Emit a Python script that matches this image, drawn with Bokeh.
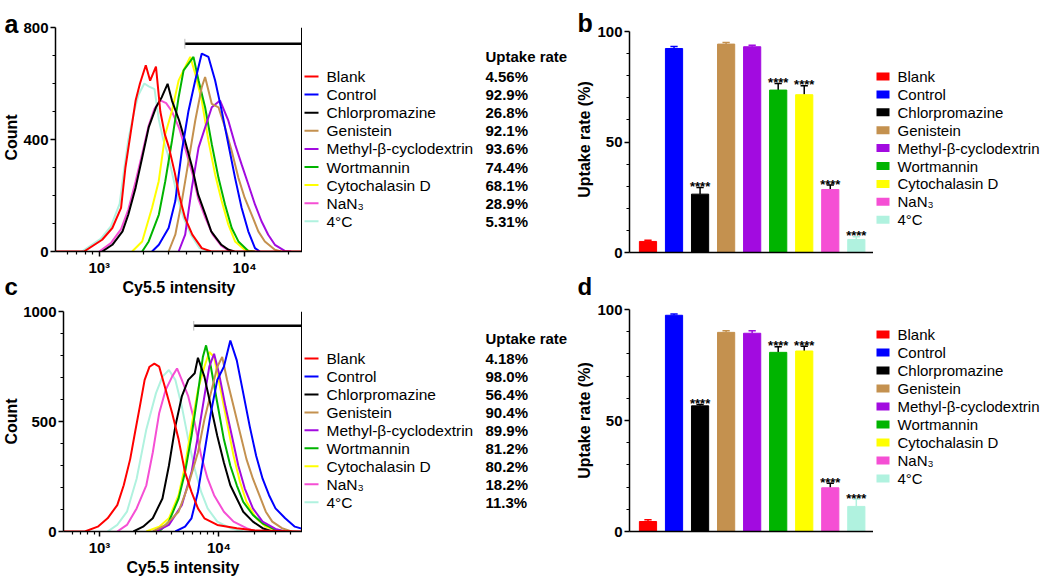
import math
from bokeh.plotting import figure
from bokeh.layouts import row, column
from bokeh.models import Range1d, FixedTicker, Span, CustomJSTickFormatter
from bokeh.core.properties import value
from bokeh.embed import file_html
from bokeh.resources import INLINE

FONT = "Liberation Sans"
INK = "#000000"

# ---------------- data ----------------
groups = ["Blank", "Control", "Chlorpromazine", "Genistein", "Methyl-β-cyclodextrin",
          "Wortmannin", "Cytochalasin D", "NaN₃", "4°C"]
colors = ["#ff0000", "#0000ff", "#000000", "#c4914f", "#a20be0",
          "#00b400", "#ffff00", "#f54fd4", "#b0f2df"]
err_colors = ["#ff0000", "#0000ff", "#000000", "#c4914f", "#a20be0",
              "#000000", "#000000", "#000000", "#b0f2df"]

uptake_a = ["4.56%", "92.9%", "26.8%", "92.1%", "93.6%", "74.4%", "68.1%", "28.9%", "5.31%"]
uptake_c = ["4.18%", "98.0%", "56.4%", "90.4%", "89.9%", "81.2%", "80.2%", "18.2%", "11.3%"]

bar_b = [5.0, 92.3, 26.4, 94.3, 93.1, 73.5, 71.4, 28.5, 5.9]
sd_b = [0.5, 0.9, 3.0, 0.7, 0.7, 3.0, 4.0, 2.0, 1.2]
sig_b = ["", "", "****", "", "", "****", "****", "****", "****"]

bar_d = [4.5, 97.4, 56.6, 89.7, 89.3, 80.7, 81.3, 19.7, 11.3]
sd_d = [0.8, 0.6, 0.6, 0.7, 1.1, 2.5, 2.2, 2.0, 3.3]
sig_d = ["", "", "****", "", "", "****", "****", "****", "****"]

# histograms (log10 of Cy5.5 intensity, count) -- panel a
a_blank_log = [2.70, 2.895, 3.02, 3.09, 3.15, 3.18, 3.215, 3.25, 3.28, 3.32, 3.35, 3.39, 3.42, 3.45, 3.48, 3.52, 3.55, 3.59, 3.64, 3.705, 3.77, 4.40]
a_blank_cnt = [0, 0, 42, 84, 156, 300, 420, 539, 600, 665, 610, 660, 500, 420, 370, 280, 200, 120, 60, 12, 0, 0]
a_ctrl_log = [3.363, 3.41, 3.477, 3.523, 3.568, 3.614, 3.66, 3.705, 3.751, 3.797, 3.842, 3.888, 3.934, 3.979, 4.025, 4.071, 4.105]
a_ctrl_cnt = [0, 24, 84, 180, 359, 503, 611, 707, 695, 611, 503, 383, 263, 156, 72, 12, 0]
a_chlor_log = [3.02, 3.09, 3.16, 3.20, 3.25, 3.295, 3.34, 3.39, 3.43, 3.47, 3.50, 3.55, 3.59, 3.64, 3.68, 3.73, 3.77, 3.84, 3.89, 3.93]
a_chlor_cnt = [0, 24, 72, 132, 228, 335, 443, 515, 551, 599, 539, 467, 395, 299, 204, 132, 72, 24, 6, 0]
a_gen_log = [3.477, 3.523, 3.568, 3.614, 3.66, 3.705, 3.728, 3.774, 3.82, 3.865, 3.911, 3.957, 4.00, 4.048, 4.094, 4.139, 4.208, 4.25]
a_gen_cnt = [0, 60, 180, 323, 467, 587, 623, 527, 515, 443, 359, 263, 192, 132, 72, 36, 6, 0]
a_mbcd_log = [3.546, 3.591, 3.637, 3.683, 3.728, 3.774, 3.831, 3.888, 3.934, 3.979, 4.025, 4.071, 4.116, 4.162, 4.208, 4.276, 4.32]
a_mbcd_cnt = [0, 60, 228, 371, 443, 515, 539, 467, 383, 311, 240, 168, 108, 60, 24, 2, 0]
a_wort_log = [3.295, 3.34, 3.41, 3.454, 3.50, 3.546, 3.58, 3.614, 3.648, 3.683, 3.728, 3.774, 3.82, 3.865, 3.911, 3.957, 4.025, 4.07]
a_wort_cnt = [0, 36, 132, 251, 395, 551, 647, 671, 695, 611, 515, 383, 263, 168, 84, 36, 2, 0]
a_cyto_log = [3.226, 3.295, 3.363, 3.409, 3.454, 3.50, 3.546, 3.591, 3.626, 3.66, 3.705, 3.751, 3.797, 3.842, 3.888, 3.934, 4.00, 4.05]
a_cyto_cnt = [0, 36, 156, 251, 419, 503, 611, 659, 695, 635, 539, 395, 275, 180, 96, 36, 6, 0]
a_nan3_log = [3.00, 3.08, 3.15, 3.20, 3.25, 3.30, 3.34, 3.38, 3.42, 3.46, 3.50, 3.55, 3.59, 3.64, 3.68, 3.73, 3.78, 3.84, 3.90]
a_nan3_cnt = [0, 30, 80, 150, 250, 360, 450, 510, 540, 530, 500, 440, 370, 280, 190, 120, 60, 20, 0]
a_cold_log = [2.88, 3.01, 3.08, 3.14, 3.17, 3.20, 3.24, 3.27, 3.31, 3.34, 3.38, 3.41, 3.44, 3.47, 3.51, 3.54, 3.58, 3.63, 3.69, 3.76]
a_cold_cnt = [0, 45, 90, 170, 290, 400, 500, 560, 600, 590, 580, 470, 400, 350, 260, 190, 120, 60, 12, 0]

# panel c
c_blank_log = [2.70, 2.878, 2.986, 3.068, 3.149, 3.203, 3.257, 3.297, 3.338, 3.378, 3.419, 3.459, 3.50, 3.554, 3.608, 3.662, 3.716, 3.77, 3.824, 3.878, 3.986, 4.149, 4.311, 4.70]
c_blank_cnt = [0, 0, 22, 60, 120, 210, 329, 449, 569, 689, 749, 763, 749, 644, 539, 419, 269, 180, 105, 60, 30, 15, 4, 0]
c_ctrl_log = [3.635, 3.716, 3.77, 3.824, 3.878, 3.932, 3.986, 4.041, 4.095, 4.149, 4.203, 4.257, 4.311, 4.365, 4.419, 4.473, 4.554, 4.635, 4.70]
c_ctrl_cnt = [0, 22, 60, 180, 359, 539, 689, 749, 868, 778, 629, 479, 344, 240, 165, 105, 60, 22, 12]
c_chlor_log = [3.284, 3.365, 3.446, 3.527, 3.581, 3.635, 3.689, 3.743, 3.797, 3.824, 3.878, 3.932, 3.986, 4.041, 4.095, 4.149, 4.203, 4.284, 4.365, 4.446]
c_chlor_cnt = [0, 22, 60, 150, 299, 479, 614, 689, 719, 790, 704, 569, 434, 314, 210, 150, 90, 45, 15, 0]
c_gen_log = [3.446, 3.554, 3.662, 3.743, 3.824, 3.878, 3.932, 3.986, 4.027, 4.068, 4.122, 4.176, 4.23, 4.284, 4.338, 4.392, 4.446, 4.527, 4.608]
c_gen_cnt = [0, 30, 90, 210, 359, 509, 629, 749, 793, 689, 569, 449, 329, 240, 165, 90, 45, 15, 0]
c_mbcd_log = [3.473, 3.581, 3.689, 3.77, 3.824, 3.878, 3.919, 3.959, 4.00, 4.054, 4.108, 4.162, 4.216, 4.284, 4.365, 4.473, 4.554]
c_mbcd_cnt = [0, 30, 120, 269, 434, 614, 749, 808, 719, 569, 434, 299, 195, 105, 45, 12, 0]
c_wort_log = [3.50, 3.581, 3.662, 3.716, 3.77, 3.824, 3.865, 3.892, 3.932, 3.986, 4.041, 4.095, 4.149, 4.203, 4.284, 4.365, 4.473, 4.554]
c_wort_cnt = [0, 45, 150, 269, 434, 629, 793, 846, 749, 584, 419, 299, 210, 135, 75, 37, 7, 0]
c_cyto_log = [3.392, 3.50, 3.581, 3.662, 3.716, 3.77, 3.824, 3.878, 3.919, 3.959, 4.014, 4.068, 4.122, 4.176, 4.23, 4.311, 4.392, 4.50]
c_cyto_cnt = [0, 22, 60, 165, 299, 479, 644, 749, 816, 793, 644, 494, 344, 225, 135, 60, 22, 0]
c_nan3_log = [3.149, 3.23, 3.311, 3.392, 3.446, 3.50, 3.554, 3.608, 3.649, 3.689, 3.743, 3.797, 3.851, 3.905, 3.959, 4.041, 4.122, 4.23, 4.311]
c_nan3_cnt = [0, 30, 105, 210, 359, 539, 644, 704, 741, 689, 614, 494, 344, 240, 165, 90, 45, 15, 0]
c_cold_log = [3.068, 3.149, 3.23, 3.311, 3.392, 3.473, 3.527, 3.581, 3.635, 3.689, 3.743, 3.797, 3.851, 3.905, 3.986, 4.095, 4.203]
c_cold_cnt = [0, 30, 90, 240, 464, 629, 704, 734, 689, 569, 419, 284, 180, 105, 45, 15, 0]

# axis ranges / gates (intensity units)
a_xrange = (500, 25000)
c_xrange = (500, 50000)
a_gate = (3880, 25000, 742)
c_gate = (6150, 50000, 935)

hist_a = [(a_blank_log, a_blank_cnt), (a_ctrl_log, a_ctrl_cnt), (a_chlor_log, a_chlor_cnt),
          (a_gen_log, a_gen_cnt), (a_mbcd_log, a_mbcd_cnt), (a_wort_log, a_wort_cnt),
          (a_cyto_log, a_cyto_cnt), (a_nan3_log, a_nan3_cnt), (a_cold_log, a_cold_cnt)]
hist_c = [(c_blank_log, c_blank_cnt), (c_ctrl_log, c_ctrl_cnt), (c_chlor_log, c_chlor_cnt),
          (c_gen_log, c_gen_cnt), (c_mbcd_log, c_mbcd_cnt), (c_wort_log, c_wort_cnt),
          (c_cyto_log, c_cyto_cnt), (c_nan3_log, c_nan3_cnt), (c_cold_log, c_cold_cnt)]


def no_align(p):
    try:
        p.frame_align = False
    except Exception:
        pass


def style_axis(ax, label):
    ax.axis_label = label
    ax.axis_label_text_font = FONT
    ax.axis_label_text_font_style = "bold"
    ax.axis_label_text_font_size = "16px"
    ax.axis_label_text_color = INK
    ax.axis_label_standoff = 0
    ax.major_label_text_font = FONT
    ax.major_label_text_font_style = "bold"
    ax.major_label_text_font_size = "15px"
    ax.major_label_text_color = INK
    ax.major_label_standoff = 2
    ax.axis_line_color = INK
    ax.major_tick_line_color = INK
    ax.minor_tick_line_color = INK
    ax.axis_line_width = 1.5
    ax.major_tick_line_width = 1.5
    ax.minor_tick_line_width = 1.2
    ax.major_tick_in = 0
    ax.major_tick_out = 5
    ax.minor_tick_in = 0
    ax.minor_tick_out = 3


def hist_fig(curves, xr, ymax, yticks, yminor, gate, width, height, left, top, bottom):
    p = figure(width=width, height=height, x_axis_type="log",
               x_range=Range1d(*xr), y_range=Range1d(0, ymax),
               output_backend="svg", toolbar_location=None,
               min_border_left=left, min_border_right=0,
               min_border_top=top, min_border_bottom=bottom)
    no_align(p)
    p.outline_line_color = None
    p.grid.visible = False
    for i in reversed(range(len(curves))):
        lg, cnt = curves[i]
        p.line([10 ** v for v in lg], cnt, line_color=colors[i], line_width=2)
    lo, hi, gy = gate
    p.segment(x0=[lo], y0=[gy], x1=[hi], y1=[gy], line_color=INK, line_width=2.5)
    p.segment(x0=[lo, hi], y0=[gy - ymax * 0.022] * 2, x1=[lo, hi], y1=[gy + ymax * 0.022] * 2,
              line_color="#bbbbbb", line_width=1)
    p.add_layout(Span(location=xr[1], dimension="height", line_color=INK, line_width=3))
    minors = []
    for dec in (100, 1000, 10000):
        for k in range(2, 10):
            v = k * dec
            if xr[0] < v < xr[1]:
                minors.append(v)
    p.xaxis.ticker = FixedTicker(ticks=[1000, 10000], minor_ticks=minors)
    p.xaxis.formatter = CustomJSTickFormatter(
        code="const e = Math.round(Math.log10(tick)); return e == 3 ? '10\u00b3' : '10\u2074';")
    p.yaxis.ticker = FixedTicker(ticks=yticks, minor_ticks=yminor)
    style_axis(p.xaxis[0], "Cy5.5 intensity")
    style_axis(p.yaxis[0], "")
    return p


def bar_fig(vals, sds, sigs, width, height, left, top, bottom):
    idx = list(range(len(vals)))
    p = figure(width=width, height=height, x_range=Range1d(-0.71, 8.66), y_range=Range1d(0, 100),
               output_backend="svg", toolbar_location=None,
               min_border_left=left, min_border_right=0,
               min_border_top=top, min_border_bottom=bottom)
    no_align(p)
    p.outline_line_color = None
    p.grid.visible = False
    tops = [v + s for v, s in zip(vals, sds)]
    p.segment(x0=idx, y0=vals, x1=idx, y1=tops, line_color=err_colors, line_width=1.5)
    p.segment(x0=[i - 0.14 for i in idx], y0=tops, x1=[i + 0.14 for i in idx], y1=tops,
              line_color=err_colors, line_width=1.5)
    p.vbar(x=idx, top=vals, width=0.66, fill_color=colors, line_color=colors)
    p.text(x=idx, y=tops, text=sigs, text_align="center", text_baseline="alphabetic",
           text_font=value(FONT), text_font_style="bold", text_font_size="13px",
           text_color=INK, y_offset=-1)
    p.yaxis.ticker = FixedTicker(ticks=[0, 50, 100], minor_ticks=[10, 20, 30, 40, 60, 70, 80, 90])
    style_axis(p.yaxis[0], "")
    ax = p.xaxis[0]
    ax.ticker = FixedTicker(ticks=[])
    ax.major_label_text_font_size = "0px"
    ax.major_tick_line_color = None
    ax.minor_tick_line_color = None
    ax.axis_line_color = INK
    ax.axis_line_width = 1.5
    return p


def text_fig(w, h, x0, y0):
    # a plain canvas whose data units are page pixels (y grows downward)
    p = figure(width=w, height=h, x_range=Range1d(x0, x0 + w), y_range=Range1d(y0 + h, y0),
               output_backend="svg", toolbar_location=None,
               x_axis_location=None, y_axis_location=None, min_border=0)
    no_align(p)
    p.outline_line_color = None
    p.grid.visible = False
    return p


def put_text(p, x, y, txt, size, bold=False, align="left", baseline="middle", angle=0.0):
    p.text(x=[x], y=[y], text=[txt], text_align=align, text_baseline=baseline, angle=angle,
           text_font=value(FONT), text_font_style="bold" if bold else "normal",
           text_font_size=size, text_color=INK)


def hist_legend(p, row0, step, header_y, values):
    ys = [row0 + i * step for i in range(len(groups))]
    p.segment(x0=[304] * 9, y0=ys, x1=[318] * 9, y1=ys, line_color=colors, line_width=2)
    p.text(x=[326] * 9, y=ys, text=groups, text_baseline="middle", text_align="left",
           text_font=value(FONT), text_font_size="15.5px", text_color=INK)
    p.text(x=[485] * 9, y=ys, text=values, text_baseline="middle", text_align="left",
           text_font=value(FONT), text_font_style="bold", text_font_size="15px", text_color=INK)
    put_text(p, 485, header_y, "Uptake rate", "15px", bold=True)


def bar_legend(p, row0, step):
    ys = [row0 + i * step for i in range(len(groups))]
    p.rect(x=[882.5] * 9, y=ys, width=13, height=8, fill_color=colors, line_color=None)
    p.text(x=[897] * 9, y=ys, text=groups, text_baseline="middle", text_align="left",
           text_font=value(FONT), text_font_size="15px", text_color=INK)


ROW1_Y, ROW1_H = 0, 300
ROW2_Y, ROW2_H = 300, 278
ROT = math.pi / 2
W_S, W_H, W_L, W_B, W_BL = 20, 282, 292, 279, 177
X_H = W_S
X_L = X_H + W_H          # 302
X_B = X_L + W_L          # 594
X_BL = X_B + W_B         # 873

# ---- row 1 ----
sa = text_fig(W_S, ROW1_H, 0, ROW1_Y)
put_text(sa, 4, 23, "a", "25px", bold=True, baseline="alphabetic")
put_text(sa, 11, 137, "Count", "16px", bold=True, align="center", angle=ROT)
put_text(sa, 4, 299, "c", "24px", bold=True, baseline="bottom")

pa = hist_fig(hist_a, a_xrange, 800, [0, 400, 800], [100, 200, 300, 500, 600, 700],
              a_gate, W_H, ROW1_H, 33, 27, 49)

pal = text_fig(W_L, ROW1_H, X_L, ROW1_Y)
hist_legend(pal, 76, 18.1, 56, uptake_a)
put_text(pal, 577, 22, "b", "25px", bold=True, baseline="alphabetic")
put_text(pal, 584, 139, "Uptake rate (%)", "16px", bold=True, align="center", angle=ROT)
put_text(pal, 577, 299, "d", "24px", bold=True, baseline="bottom")

pb = bar_fig(bar_b, sd_b, sig_b, W_B, ROW1_H, 32, 31, 48)

pbl = text_fig(W_BL, ROW1_H, X_BL, ROW1_Y)
bar_legend(pbl, 76, 17.9)

# ---- row 2 ----
sc = text_fig(W_S, ROW2_H, 0, ROW2_Y)
put_text(sc, 11, 421, "Count", "16px", bold=True, align="center", angle=ROT)

pc = hist_fig(hist_c, c_xrange, 1000, [0, 500, 1000], [100, 200, 300, 400, 600, 700, 800, 900],
              c_gate, W_H, ROW2_H, 33, 11, 45)

pcl = text_fig(W_L, ROW2_H, X_L, ROW2_Y)
hist_legend(pcl, 358, 17.96, 338, uptake_c)
put_text(pcl, 584, 420, "Uptake rate (%)", "16px", bold=True, align="center", angle=ROT)

pd = bar_fig(bar_d, sd_d, sig_d, W_B, ROW2_H, 32, 9, 47)

pdl = text_fig(W_BL, ROW2_H, X_BL, ROW2_Y)
bar_legend(pdl, 334, 18.0)

layout = column(row(sa, pa, pal, pb, pbl), row(sc, pc, pcl, pd, pdl))
open("out.html", "w").write(file_html(layout, INLINE))
